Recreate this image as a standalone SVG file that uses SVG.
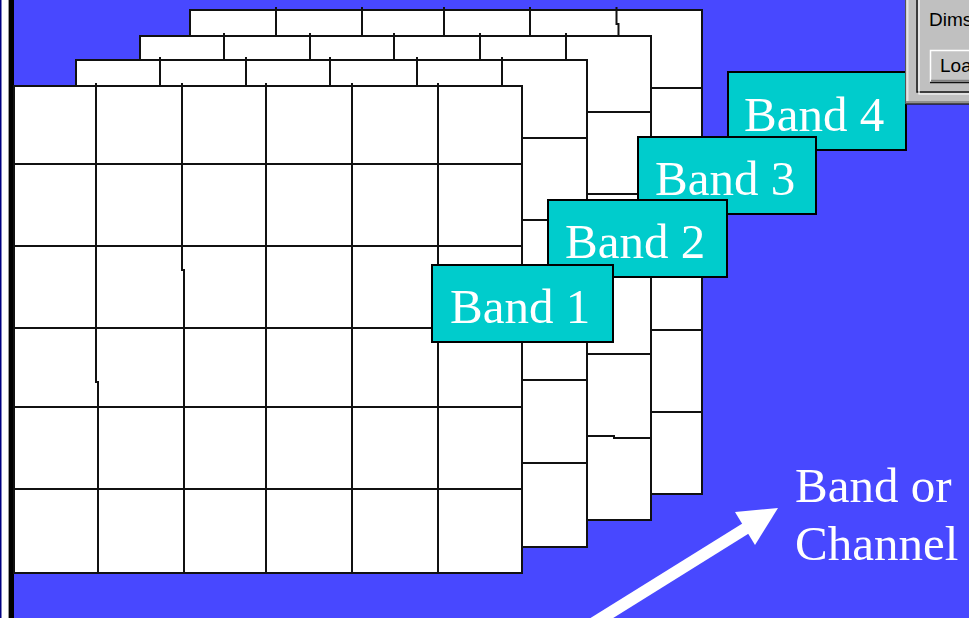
<svg xmlns="http://www.w3.org/2000/svg" width="969" height="618" viewBox="0 0 969 618">
<style>
.sheet{fill:#fff;stroke:#111;stroke-width:2}
.grid{fill:none;stroke:#111;stroke-width:2}
.band{fill:#00CCCC;stroke:#000;stroke-width:2}
.bt{font-family:"Liberation Serif","Times New Roman",serif;font-size:49px;fill:#fff}
.ui{font-family:"Liberation Sans",Arial,sans-serif;font-size:19px;fill:#000}
</style>
<rect x="0" y="0" width="969" height="618" fill="#4848FF"/>
<g id="leftbar">
<rect x="0" y="0" width="9" height="618" fill="#fff"/>
<rect x="0" y="0" width="1.5" height="618" fill="#000080"/>
<rect x="8" y="0" width="1" height="618" fill="#999"/>
<rect x="9" y="0" width="5" height="618" fill="#000"/>
</g>
<g id="sheet4">
<rect class="sheet" x="190" y="10" width="512" height="484"/>
<path class="grid" d="M276 7V494M362 7V494M444 7V494M530 7V494M616.5 7V24H618.5V494M190 88H702M190 170H702M190 252H702M190 330H702M190 412H702"/>
</g>
<g id="sheet3">
<rect class="sheet" x="140" y="36" width="511" height="484"/>
<path class="grid" d="M224 33V520M310 33V520M394 33V520M480 33V520M566 33V520M140 112H651M140 194H651M140 276H651M140 354H651M140 436H614V438H651"/>
</g>
<g id="sheet2">
<rect class="sheet" x="76" y="60" width="511" height="487"/>
<path class="grid" d="M160 57V547M246 57V547M330 57V547M417 57V547M502 57V547M76 138H587M76 220H587M76 302H587M76 380H587M76 463H587"/>
</g>
<g id="sheet1">
<rect class="sheet" x="14" y="86" width="508" height="487"/>
<path class="grid" d="M96 83V382H98V573M182 83V270H184V573M266 83V573M352 83V573M438 83V573M14 164H522M14 246H522M14 328H522M14 407H522M14 489H522"/>
</g>
<g id="band4">
<rect class="band" x="728" y="72" width="178" height="78"/>
<text class="bt" x="744" y="131">Band 4</text>
</g>
<g id="band3">
<rect class="band" x="638" y="137" width="178" height="77"/>
<text class="bt" x="655" y="195">Band 3</text>
</g>
<g id="band2">
<rect class="band" x="548" y="200" width="179" height="77"/>
<text class="bt" x="565" y="258">Band 2</text>
</g>
<g id="band1">
<rect class="band" x="432" y="265" width="181" height="77"/>
<text class="bt" x="450" y="323">Band 1</text>
</g>
<g id="dialog">
<rect x="906" y="-2" width="65" height="106" fill="#C0C0C0"/>
<line x1="905.5" y1="0" x2="905.5" y2="104" stroke="#555" stroke-width="1"/>
<line x1="907.5" y1="0" x2="907.5" y2="101" stroke="#E4E4E4" stroke-width="2"/>
<line x1="906" y1="102" x2="969" y2="102" stroke="#808080" stroke-width="1.5"/>
<line x1="906" y1="104" x2="969" y2="104" stroke="#222" stroke-width="1.5"/>
<path d="M917 0V92H969" fill="none" stroke="#111" stroke-width="1.5"/>
<path d="M919 0V94H969" fill="none" stroke="#fff" stroke-width="1.2"/>
<text class="ui" x="929" y="26">Dims</text>
<rect x="930" y="50" width="41" height="32" fill="#C4C4C4"/>
<path d="M930.5 82V50.5H969" fill="none" stroke="#fff" stroke-width="1.5"/>
<path d="M931 80.5H969" fill="none" stroke="#808080" stroke-width="1.5"/>
<path d="M930 82.5H969" fill="none" stroke="#111" stroke-width="1.5"/>
<text class="ui" x="940" y="72">Loa</text>
</g>
<g id="connectors">
<line x1="589" y1="626" x2="748" y2="527" stroke="#fff" stroke-width="12"/>
<polygon points="778,508 735,512 755,545" fill="#fff"/>
</g>
<g id="caption">
<text class="bt" x="795" y="502">Band or</text>
<text class="bt" x="795" y="560">Channel</text>
</g>
</svg>
